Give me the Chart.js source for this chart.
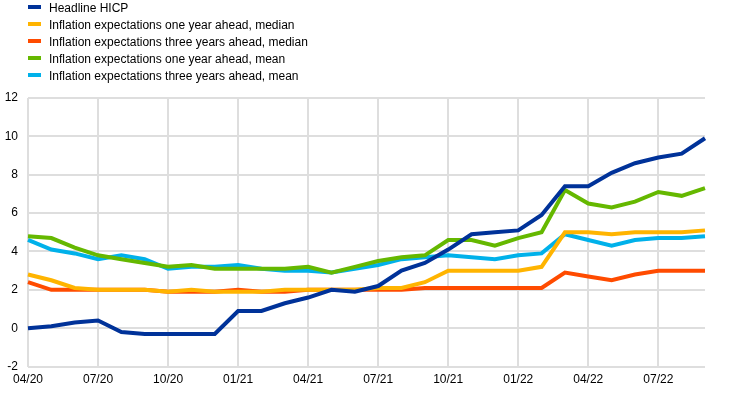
<!DOCTYPE html>
<html lang="en">
<head>
    <meta charset="UTF-8">
    <title>HICP and inflation expectations</title>
    <script src="https://cdn.jsdelivr.net/npm/chart.js@4"></script>
    <style>
        body {
            margin: 0;
            background-color: white;
            font-family: Arial, "Liberation Sans", sans-serif;
        }
        .wrap {
            position: relative;
            width: 744px;
            height: 394px;
        }
        #chart {
            position: absolute;
            left: 0;
            top: 0;
        }
        .legend {
            position: absolute;
            left: 28px;
            top: 0;
            font-size: 12px;
            color: #000;
        }
        .legend-item {
            height: 17px;
            line-height: 17px;
            white-space: nowrap;
        }
        .legend-item span {
            display: inline-block;
            width: 13px;
            height: 4px;
            margin-right: 8px;
            vertical-align: middle;
            position: relative;
            top: -2px;
        }
    </style>
</head>
<body>
<div class="wrap">
    <canvas id="chart" width="744" height="394"></canvas>
    <div class="legend" id="legend"></div>
</div>
<script>
    // Months shown on the x axis (April 2020 to September 2022)
    const months = [
        '04/20', '05/20', '06/20', '07/20', '08/20', '09/20', '10/20', '11/20', '12/20',
        '01/21', '02/21', '03/21', '04/21', '05/21', '06/21', '07/21', '08/21', '09/21',
        '10/21', '11/21', '12/21', '01/22', '02/22', '03/22', '04/22', '05/22', '06/22',
        '07/22', '08/22', '09/22'
    ];

    const headlineHicp = [
        0.0, 0.1, 0.3, 0.4, -0.2, -0.3, -0.3, -0.3, -0.3,
        0.9, 0.9, 1.3, 1.6, 2.0, 1.9, 2.2, 3.0, 3.4,
        4.1, 4.9, 5.0, 5.1, 5.9, 7.4, 7.4, 8.1, 8.6,
        8.9, 9.1, 9.9
    ];
    const oneYearMedian = [
        2.8, 2.5, 2.1, 2.0, 2.0, 2.0, 1.9, 2.0, 1.9,
        1.9, 1.9, 2.0, 2.0, 2.0, 2.0, 2.1, 2.1, 2.4,
        3.0, 3.0, 3.0, 3.0, 3.2, 5.0, 5.0, 4.9, 5.0,
        5.0, 5.0, 5.1
    ];
    const threeYearMedian = [
        2.4, 2.0, 2.0, 2.0, 2.0, 2.0, 1.9, 1.9, 1.9,
        2.0, 1.9, 1.9, 2.0, 2.0, 2.0, 2.0, 2.0, 2.1,
        2.1, 2.1, 2.1, 2.1, 2.1, 2.9, 2.7, 2.5, 2.8,
        3.0, 3.0, 3.0
    ];
    const oneYearMean = [
        4.8, 4.7, 4.2, 3.8, 3.6, 3.4, 3.2, 3.3, 3.1,
        3.1, 3.1, 3.1, 3.2, 2.9, 3.2, 3.5, 3.7, 3.8,
        4.6, 4.6, 4.3, 4.7, 5.0, 7.2, 6.5, 6.3, 6.6,
        7.1, 6.9, 7.3
    ];
    const threeYearMean = [
        4.6, 4.1, 3.9, 3.6, 3.8, 3.6, 3.1, 3.2, 3.2,
        3.3, 3.1, 3.0, 3.0, 2.9, 3.1, 3.3, 3.6, 3.7,
        3.8, 3.7, 3.6, 3.8, 3.9, 4.9, 4.6, 4.3, 4.6,
        4.7, 4.7, 4.8
    ];

    const series = [
        { label: 'Headline HICP', data: headlineHicp, color: '#003299' },
        { label: 'Inflation expectations one year ahead, median', data: oneYearMedian, color: '#FFB400' },
        { label: 'Inflation expectations three years ahead, median', data: threeYearMedian, color: '#FF4B00' },
        { label: 'Inflation expectations one year ahead, mean', data: oneYearMean, color: '#65B800' },
        { label: 'Inflation expectations three years ahead, mean', data: threeYearMean, color: '#00B1EA' }
    ];

    // Legend as plain html, one entry per row
    const legend = document.getElementById('legend');
    series.forEach(s => {
        const row = document.createElement('div');
        row.className = 'legend-item';
        row.innerHTML = '<span style="background:' + s.color + '"></span>' + s.label;
        legend.appendChild(row);
    });

    const gridColor = '#dedede';

    new Chart(document.getElementById('chart').getContext('2d'), {
        type: 'line',
        data: {
            labels: months,
            datasets: series.map(s => ({
                label: s.label,
                data: s.data,
                borderColor: s.color,
                backgroundColor: s.color,
                borderWidth: 4,
                pointRadius: 0,
                tension: 0,
                fill: false
            }))
        },
        options: {
            responsive: false,
            animation: false,
            layout: {
                padding: { top: 98, left: 5, right: 39, bottom: 1 }
            },
            plugins: {
                legend: { display: false },
                tooltip: { enabled: false }
            },
            scales: {
                x: {
                    offset: false,
                    border: { display: false },
                    grid: {
                        drawTicks: false,
                        lineWidth: 2,
                        color: ctx => (ctx.index % 3 === 0 ? gridColor : 'rgba(0,0,0,0)')
                    },
                    ticks: {
                        autoSkip: false,
                        maxRotation: 0,
                        padding: 6,
                        color: '#000',
                        font: { family: 'Arial, "Liberation Sans", sans-serif', size: 12 },
                        callback: function (value, index) {
                            return index % 3 === 0 ? months[index] : '';
                        }
                    }
                },
                y: {
                    min: -2,
                    max: 12,
                    border: { display: false },
                    afterFit: scale => { scale.width = 23; },
                    grid: {
                        drawTicks: false,
                        lineWidth: 2,
                        color: gridColor
                    },
                    ticks: {
                        stepSize: 2,
                        padding: 10,
                        color: '#000',
                        font: { family: 'Arial, "Liberation Sans", sans-serif', size: 12 }
                    }
                }
            }
        }
    });
</script>
</body>
</html>
